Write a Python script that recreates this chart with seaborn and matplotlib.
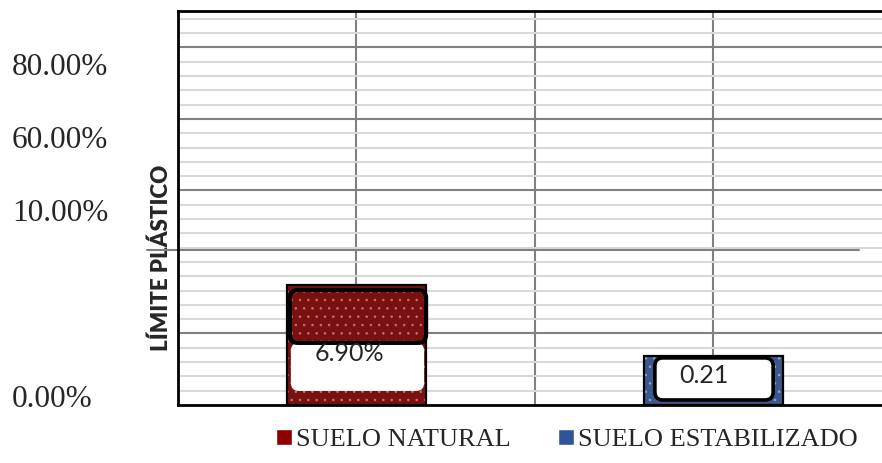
import matplotlib
matplotlib.use("Agg")
import matplotlib.pyplot as plt
import matplotlib.transforms as mtransforms
from matplotlib.patches import FancyBboxPatch, Patch, Rectangle
import numpy as np
import pandas as pd
import seaborn as sns

# values (axis unit = one light grid step)
suelos = ["SUELO NATURAL", "SUELO ESTABILIZADO"]
alturas = [8.4, 3.4]
etiquetas = ["6.90%", "0.21"]
colores = ["#8B0000", "#2F5597"]
puntos = ["#C87070", "#8FA6D0"]

# the printed y labels do not follow the grid, so keep them apart
ytick_pos = [23.6, 18.5, 13.4, 0.35]
ytick_labels = ["80.00%", "60.00%", "10.00%", "0.00%"]
ymax = 27.55
linea_extra = 10.84

df = pd.DataFrame({"suelo": suelos, "valor": alturas})

sns.set_style("white")
plt.rcParams["hatch.linewidth"] = 0.6
fig = plt.figure(figsize=(8.82, 4.63), dpi=100)
ax = fig.add_axes([0.2018, 0.1253, 0.7982, 0.851])

sns.barplot(data=df, x="suelo", y="valor", hue="suelo", palette=colores,
            width=0.39, edgecolor="white", linewidth=0, hatch="..",
            legend=False, ax=ax, zorder=2)

# grid: light lines every unit, darker every 5 (the one at 10 is light)
ax.set_yticks([5, 15, 20, 25])
ax.set_yticks(np.arange(1, 28), minor=True)
ax.set_xticks([-0.5, 0, 0.5, 1])
ax.set_xlim(-0.5, 1.472)
ax.set_ylim(0, ymax)
ax.grid(which="minor", axis="y", color="#D9D9D9", linewidth=1.5)
ax.grid(which="major", axis="y", color="#808080", linewidth=1.5)
ax.grid(which="major", axis="x", color="#808080", linewidth=1.5)
ax.set_axisbelow(True)
ax.tick_params(which="both", length=0, labelleft=False, labelbottom=False)
ax.set_xlabel("")
ax.set_ylabel("LÍMITE PLÁSTICO", family="Lato", fontweight="heavy", fontsize=16)
ax.yaxis.set_label_coords(-0.008, 0.373)

for side in ["left", "top", "bottom"]:
    ax.spines[side].set_color("black")
    ax.spines[side].set_linewidth(2)
ax.spines["right"].set_visible(False)

ax.axhline(linea_extra, xmin=-0.044, xmax=0.967, color="#808080",
           linewidth=1.5, clip_on=False, zorder=1)

tr = mtransforms.blended_transform_factory(fig.transFigure, ax.transData)
for pos, lab in zip(ytick_pos, ytick_labels):
    ax.text(0.0136, pos, lab, transform=tr, ha="left", va="center",
            family="Liberation Serif", fontsize=22.5)

# rounded boxes need the px ratio between x and y units
bbox = ax.get_window_extent()
px_x = bbox.width / (ax.get_xlim()[1] - ax.get_xlim()[0])
px_y = bbox.height / (ax.get_ylim()[1] - ax.get_ylim()[0])
aspect = px_x / px_y
rs = 8 / px_x


def caja(x0, y0, w, h, fc, ec, lw, z):
    p = FancyBboxPatch((x0, y0), w, h,
                       boxstyle=f"round,pad=0,rounding_size={rs}",
                       mutation_aspect=aspect, facecolor=fc, edgecolor=ec,
                       linewidth=lw, zorder=z)
    ax.add_patch(p)


bars = ax.patches[:len(suelos)]
for bar, pc in zip(bars, puntos):
    bar.set_edgecolor(pc)
    ax.add_patch(Rectangle((bar.get_x(), 0), bar.get_width(), bar.get_height(),
                           fill=False, edgecolor="black", linewidth=1.6,
                           zorder=3))

# natural soil: thick rounded frame on top, white box with the label under it
b = bars[0]
x0, w, h = b.get_x(), b.get_width(), b.get_height()
caja(x0 + 4 / px_x, 0.117 * h, w - 6 / px_x, 0.40 * h, "white", "none", 0, 4)
caja(x0 + 3 / px_x, 0.517 * h, w - 3 / px_x, 0.44 * h, "none", "black", 3, 5)
ax.text(x0 + w / 2 - 7 / px_x, 0.43 * h, etiquetas[0], ha="center",
        va="center", family="Lato", fontsize=18, zorder=6)

# stabilized soil: white box with thick frame
b = bars[1]
x0, w, h = b.get_x(), b.get_width(), b.get_height()
caja(x0 + 11 / px_x, 0.103 * h, w - 21 / px_x, 0.865 * h, "white", "black",
     2.6, 4)
ax.text(x0 + w / 2 - 10 / px_x, 0.6 * h, etiquetas[1], ha="center",
        va="center", family="Lato", fontsize=18, zorder=6)

handles = [Patch(facecolor=c) for c in colores]
fig.legend(handles=handles, labels=suelos, loc="center",
           bbox_to_anchor=(0.643, 0.05), ncol=2, frameon=False,
           prop={"family": "Liberation Serif", "size": 19},
           handlelength=0.6, handleheight=0.6, handletextpad=0.15,
           columnspacing=1.8)

fig.savefig("out.png", dpi=100)
